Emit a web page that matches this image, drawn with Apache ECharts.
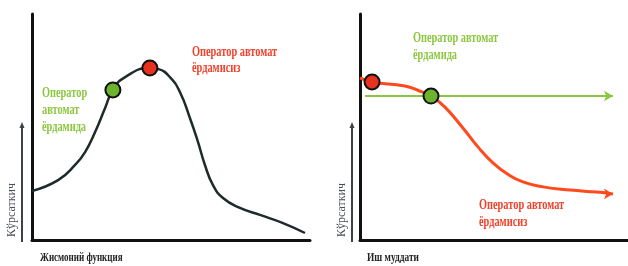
<!DOCTYPE html>
<html>
<head>
<meta charset="utf-8">
<script src="https://cdn.jsdelivr.net/npm/echarts@6/dist/echarts.min.js"></script>
<style>
  html, body { margin: 0; padding: 0; background: #fff; }
  #chart { width: 628px; height: 266px; }
</style>
</head>
<body>
<div id="chart"></div>
<script>
// левый график: жисмоний функция
const funcX = [0, 9.4, 15.5, 19.1, 22.7, 26.3, 29.1, 33.5, 42.4, 45.5, 49.6, 53.2, 56.8, 59.7, 62.2, 65.1, 68.7, 74.8, 82, 90.3, 98.2];
const funcY = [21.7, 26.5, 33.2, 38.9, 47.8, 58.4, 66.4, 72.1, 76.1, 75.6, 72.1, 65.5, 54, 43.4, 33.2, 24.3, 18.6, 14.2, 11.1, 7.5, 3.1];
const funcWith = [29.1, 66.4];
const funcWithout = [42.4, 76.1];

// правый график: иш муддати
const termX = [0, 4.5, 16.8, 23.1, 26.5, 31.7, 38.1, 44, 49.6, 55, 60.8, 68.3, 78.4, 88.4, 94.4];
const termY = [71.7, 69.9, 68.1, 65.5, 63.7, 58.8, 50, 41.2, 34.1, 29.2, 25.7, 23.5, 22.1, 21.2, 20.4];
const termFlatX = [1.9, 94.4];
const termFlatY = [63.7, 63.7];
const termWith = [26.5, 63.7];
const termWithout = [4.5, 69.9];

const labelWith = ["Оператор", "автомат", "ёрдамида"];
const labelWithout = ["Оператор автомат", "ёрдамисиз"];
const axisNames = ["Жисмоний функция", "Иш муддати"];
const yName = "Кўрсаткич";

const GREEN = "#8cc63f";
const RED = "#f2402a";
const CURVE = "#1e2b2b";
const FONT = "Liberation Serif";

const zip = (xs, ys) => xs.map((x, i) => [x, ys[i]]);

// стрелка на конце линии
const withArrow = (pts) =>
  pts.map((p, i) =>
    i === pts.length - 1
      ? { value: p, symbol: "arrow", symbolSize: [8, 9], symbolRotate: -90 }
      : p
  );

const axisBase = {
  type: "value",
  min: 0,
  max: 100,
  axisLine: { show: true, lineStyle: { color: "#111", width: 3 } },
  axisTick: { show: false },
  axisLabel: { show: false },
  splitLine: { show: false },
};

const dot = (idx, pos, color) => ({
  type: "scatter",
  xAxisIndex: idx,
  yAxisIndex: idx,
  data: [pos],
  symbolSize: 15,
  z: 5,
  itemStyle: { color: color, borderColor: "#111", borderWidth: 2, opacity: 1 },
});

const note = (x, y, lines, color, size, gap, sx) =>
  lines.map((t, i) => ({
    type: "text",
    x: x,
    y: y + i * gap,
    scaleX: sx || 0.69,
    style: {
      text: t,
      fill: color,
      font: "bold " + size + "px '" + FONT + "'",
      verticalAlign: "middle",
    },
  }));

// маленькая стрелка и подпись у оси Y
const yArrow = (ax, tx) => [
  {
    type: "line",
    shape: { x1: ax, y1: 242, x2: ax, y2: 127 },
    style: { stroke: "#3a4448", lineWidth: 2 },
  },
  {
    type: "polygon",
    shape: { points: [[ax - 2.5, 128], [ax + 2.5, 128], [ax, 122]] },
    style: { fill: "#3a4448" },
  },
  {
    type: "text",
    x: tx,
    y: 210,
    rotation: Math.PI / 2,
    style: {
      text: yName,
      fill: "#4a4f55",
      font: "12px '" + FONT + "'",
      align: "center",
      verticalAlign: "middle",
    },
  },
];

const option = {
  animation: false,
  backgroundColor: "#fff",
  grid: [
    { left: 32, right: 318, top: 14, bottom: 26 },
    { left: 360, right: 0, top: 14, bottom: 26 },
  ],
  xAxis: [
    Object.assign({ gridIndex: 0 }, axisBase),
    Object.assign({ gridIndex: 1 }, axisBase),
  ],
  yAxis: [
    Object.assign({ gridIndex: 0 }, axisBase),
    Object.assign({ gridIndex: 1 }, axisBase),
  ],
  series: [
    {
      type: "line",
      xAxisIndex: 0,
      yAxisIndex: 0,
      data: zip(funcX, funcY),
      smooth: 0.5,
      symbol: "none",
      lineStyle: { color: CURVE, width: 2.5 },
    },
    dot(0, funcWith, "#6cb42e"),
    dot(0, funcWithout, "#e8321f"),
    {
      type: "line",
      xAxisIndex: 1,
      yAxisIndex: 1,
      data: withArrow(zip(termFlatX, termFlatY)),
      symbol: "none",
      itemStyle: { color: GREEN },
      lineStyle: { color: GREEN, width: 2 },
    },
    {
      type: "line",
      xAxisIndex: 1,
      yAxisIndex: 1,
      data: withArrow(zip(termX, termY)),
      smooth: 0.5,
      symbol: "none",
      itemStyle: { color: "#ff4a1e" },
      lineStyle: { color: "#ff4a1e", width: 3 },
    },
    dot(1, termWithout, "#e8321f"),
    dot(1, termWith, "#6cb42e"),
  ],
  graphic: [].concat(
    note(42, 93, labelWith, GREEN, 15, 17),
    note(192, 52, labelWithout, RED, 15, 16),
    note(413, 38, [labelWith[0] + " " + labelWith[1], labelWith[2]], GREEN, 15, 17),
    note(479, 205, labelWithout, RED, 15, 17),
    note(40, 258, [axisNames[0]], "#222", 12, 0, 0.75),
    note(367, 258, [axisNames[1]], "#222", 12, 0, 0.78),
    yArrow(22, 12),
    yArrow(352, 342)
  ),
};

const myChart = echarts.init(document.getElementById("chart"));
myChart.setOption(option);
</script>
</body>
</html>
